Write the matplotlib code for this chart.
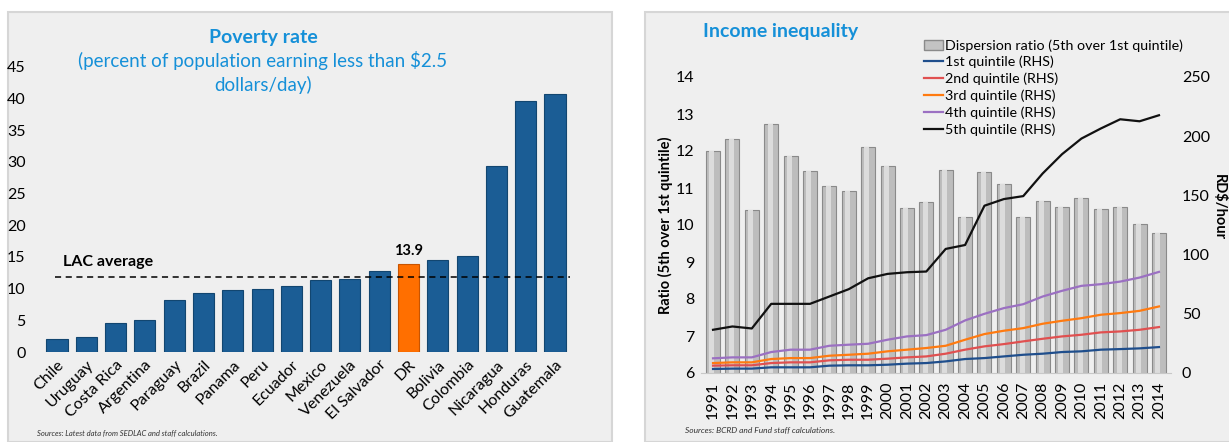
import numpy as np
import matplotlib.pyplot as plt
from matplotlib.patches import Rectangle, Patch
from matplotlib.lines import Line2D

plt.rcParams['font.family'] = ['Lato', 'DejaVu Sans']

# poverty rate data
countries = ['Chile', 'Uruguay', 'Costa Rica', 'Argentina', 'Paraguay', 'Brazil', 'Panama',
             'Peru', 'Ecuador', 'Mexico', 'Venezuela', 'El Salvador', 'DR', 'Bolivia',
             'Colombia', 'Nicaragua', 'Honduras', 'Guatemala']
poverty = [2.0, 2.3, 4.6, 5.0, 8.2, 9.3, 9.8, 10.0, 10.5, 11.4, 11.5, 12.8, 13.9, 14.5,
           15.1, 29.4, 39.7, 40.8]
lac_avg = 11.9

# income inequality data
years = [str(y) for y in range(1991, 2015)]
ratio = [12.0, 12.32, 10.40, 12.74, 11.86, 11.47, 11.05, 10.93, 12.11, 11.59, 10.46, 10.63,
         11.50, 10.21, 11.42, 11.10, 10.22, 10.65, 10.49, 10.72, 10.43, 10.49, 10.03, 9.78]
q1 = [3.4, 3.7, 3.7, 4.8, 4.8, 4.8, 6.2, 6.5, 6.5, 7.0, 7.9, 8.4, 9.8, 11.8, 12.6, 14.0,
      15.4, 16.3, 17.7, 18.3, 19.7, 20.2, 20.8, 21.9]
q2 = [6.2, 6.5, 6.5, 8.4, 9.0, 9.0, 10.7, 11.2, 11.2, 12.1, 13.2, 14.0, 16.3, 19.7, 22.5,
      24.4, 26.7, 28.9, 30.9, 32.3, 34.3, 35.1, 36.5, 38.8]
q3 = [8.4, 9.0, 9.0, 11.8, 12.6, 12.6, 14.6, 15.4, 16.3, 18.3, 19.7, 21.1, 23.0, 28.1, 32.9,
      35.7, 37.9, 41.6, 44.1, 46.3, 49.2, 50.6, 52.5, 56.2]
q4 = [12.4, 13.2, 13.2, 17.7, 19.7, 19.7, 23.0, 23.9, 24.7, 28.1, 30.9, 32.0, 36.5, 44.4,
      50.0, 54.8, 58.1, 64.6, 69.4, 73.6, 75.0, 77.2, 80.6, 85.4]
q5 = [36.5, 39.3, 37.6, 58.4, 58.4, 58.4, 64.6, 70.8, 80.0, 83.7, 85.1, 85.7, 104.8, 108.1,
      141.3, 146.9, 149.4, 168.5, 184.8, 198.0, 206.5, 214.3, 212.6, 217.7]

W, H = 1229, 442
fig = plt.figure(figsize=(W / 100, H / 100), dpi=100)
bg = '#efefef'
blue_title = '#1590d8'

def px(x0, y0, x1, y1):
    # pixel box (top-left origin) -> figure fraction rect
    return [x0 / W, 1 - y1 / H, (x1 - x0) / W, (y1 - y0) / H]

# panel backgrounds
fig.patches.append(Rectangle((8 / W, 0), 604 / W, 1 - 12 / H, transform=fig.transFigure,
                             facecolor=bg, edgecolor='#d6d6d6', lw=1.5, zorder=-10))
fig.patches.append(Rectangle((645 / W, 0), 590 / W, 1 - 12 / H, transform=fig.transFigure,
                             facecolor=bg, edgecolor='#d6d6d6', lw=1.5, zorder=-10))

# ---------------- left panel ----------------
ax = fig.add_axes(px(39.4, 67, 572.6, 352))
ax.set_facecolor('none')
x = np.arange(len(countries))
cols = ['#ff6f00' if c == 'DR' else '#1b5d95' for c in countries]
edges = ['#c85400' if c == 'DR' else '#124670' for c in countries]
ax.bar(x, poverty, width=0.72, color=cols, edgecolor=edges, lw=0.8, zorder=2)
ax.set_xlim(-0.6, len(countries) - 0.4)
ax.set_ylim(0, 45)
ax.set_yticks(range(0, 46, 5))
ax.set_xticks(x)
ax.set_xticklabels(countries, rotation=45, ha='right', rotation_mode='anchor', fontsize=11)
ax.tick_params(length=0, labelsize=11.5, pad=4)
ax.tick_params(axis='y', pad=10)
for s in ax.spines.values():
    s.set_visible(False)
ax.axhline(lac_avg, xmin=0.03, xmax=0.995, color='black', ls=(0, (4, 3)), lw=1.1, zorder=3)
ax.text(0.2, lac_avg + 1.6, 'LAC average', fontsize=11.5, fontweight='bold')
dr = countries.index('DR')
ax.text(dr, poverty[dr] + 1.0, f'{poverty[dr]:.1f}', ha='center', va='bottom',
        fontsize=10.5, fontweight='bold')

fig.text(263 / W, 1 - 38 / H, 'Poverty rate', ha='center', va='center', fontsize=14,
         fontweight='bold', color=blue_title)
fig.text(263 / W, 1 - 60 / H, '(percent of population earning less than $2.5', ha='center',
         va='center', fontsize=13.5, color=blue_title)
fig.text(263 / W, 1 - 85 / H, 'dollars/day)', ha='center', va='center', fontsize=13.5,
         color=blue_title)
fig.text(37 / W, 1 - 433 / H, 'Sources: Latest data from SEDLAC and staff calculations.',
         fontsize=5.5, style='italic', va='center', color='#333333')

# ---------------- right panel ----------------
ax1 = fig.add_axes(px(701.4, 77, 1170.6, 373))
ax1.set_facecolor('none')
xi = np.arange(len(years))
ax1.bar(xi, ratio, width=0.72, color='#bdbdbd', edgecolor='#8a8a8a', lw=0.8, zorder=1)
# lighter stripe for the cylinder look
ax1.bar(xi - 0.06, ratio, width=0.26, color='#dcdcdc', lw=0, zorder=1.5)
ax1.set_ylim(6, 14)
ax1.set_xlim(-0.6, len(years) - 0.4)
ax1.set_xticks(xi)
ax1.set_xticklabels(years, rotation=90, fontsize=11)
ax1.tick_params(length=0, labelsize=11.5)
ax1.tick_params(axis='y', pad=5)
ax1.tick_params(axis='x', pad=6)
for s in ax1.spines.values():
    s.set_visible(False)
ax1.spines['bottom'].set_visible(True)
ax1.spines['bottom'].set_color('#c8c8c8')
ax1.set_ylabel('Ratio (5th over 1st quintile)', fontsize=10.5, fontweight='bold', labelpad=2)

ax2 = ax1.twinx()
ax2.set_ylim(0, 250)
ax2.set_yticks(range(0, 251, 50))
line_cols = ['#1f4e8c', '#e05050', '#ff7a10', '#9b70c2', '#111111']
line_labels = ['1st quintile (RHS)', '2nd quintile (RHS)', '3rd quintile (RHS)',
               '4th quintile (RHS)', '5th quintile (RHS)']
for series, c in zip([q1, q2, q3, q4, q5], line_cols):
    ax2.plot(xi, series, color=c, lw=1.6, zorder=3)
ax2.tick_params(length=0, labelsize=11.5, pad=8)
for s in ax2.spines.values():
    s.set_visible(False)
ax2.set_ylabel('RD$/hour', fontsize=10.5, fontweight='bold', rotation=270, va='center')
ax2.yaxis.set_label_coords(1.105, 0.56)

handles = [Patch(facecolor='#c3c3c3', edgecolor='#8a8a8a')]
handles += [Line2D([], [], color=c, lw=1.6) for c in line_cols]
fig.legend(handles, ['Dispersion ratio (5th over 1st quintile)'] + line_labels,
           loc='upper left', bbox_to_anchor=(924 / W, 1 - 39 / H), frameon=False,
           fontsize=10.3, handlelength=1.3, handletextpad=0.15, labelspacing=0.3,
           borderpad=0, borderaxespad=0)

fig.text(703 / W, 1 - 32 / H, 'Income inequality', ha='left', va='center', fontsize=14,
         fontweight='bold', color=blue_title)
fig.text(685 / W, 1 - 430 / H, 'Sources: BCRD and Fund staff calculations.',
         fontsize=6, style='italic', va='center', color='#333333')

fig.savefig('out.png', dpi=100, facecolor='white')
